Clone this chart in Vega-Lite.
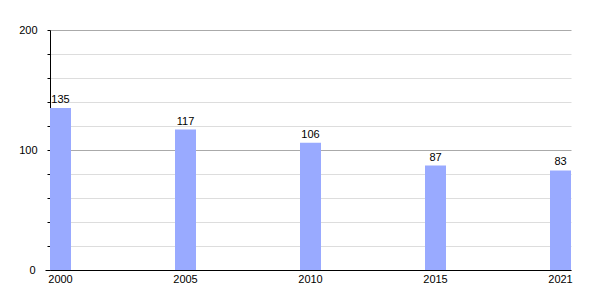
{
  "$schema": "https://vega.github.io/schema/vega-lite/v6.json",
  "width": 521,
  "height": 240,
  "autosize": {"type": "none"},
  "padding": {"left": 50, "top": 30, "right": 29, "bottom": 30},
  "background": "white",
  "config": {
    "view": {"stroke": null},
    "font": "Liberation Sans",
    "axis": {"labelFont": "Liberation Sans", "labelFontSize": 11, "labelColor": "#000"}
  },
  "data": {"values": [
    {"year": "2000", "value": 135},
    {"year": "2005", "value": 117},
    {"year": "2010", "value": 106},
    {"year": "2015", "value": 87},
    {"year": "2021", "value": 83}
  ]},
  "encoding": {
    "x": {
      "field": "year", "type": "ordinal",
      "scale": {"paddingInner": 0.832, "paddingOuter": 0},
      "axis": {"title": null, "labelAngle": 0, "ticks": false, "labelPadding": 3, "domainColor": "#000", "domainWidth": 1, "grid": false}
    },
    "y": {
      "field": "value", "type": "quantitative",
      "scale": {"domain": [0, 200], "nice": false},
      "axis": {
        "title": null,
        "values": [0, 20, 40, 60, 80, 100, 120, 140, 160, 180, 200],
        "labelExpr": "datum.value % 100 === 0 ? datum.label : ''",
        "grid": true,
        "gridColor": {"condition": {"test": "datum.value % 100 === 0", "value": "#aaaaaa"}, "value": "#dddddd"},
        "tickSize": {"condition": {"test": "datum.value === 0", "value": 5}, "value": 3},
        "tickColor": "#000",
        "domainColor": "#000",
        "labelPadding": 10
      }
    }
  },
  "layer": [
    {"mark": {"type": "bar", "color": "#99aaff"}},
    {"mark": {"type": "text", "baseline": "bottom", "dy": -3, "fontSize": 11, "color": "#000"},
     "encoding": {"text": {"field": "value", "type": "quantitative"}}}
  ]
}
